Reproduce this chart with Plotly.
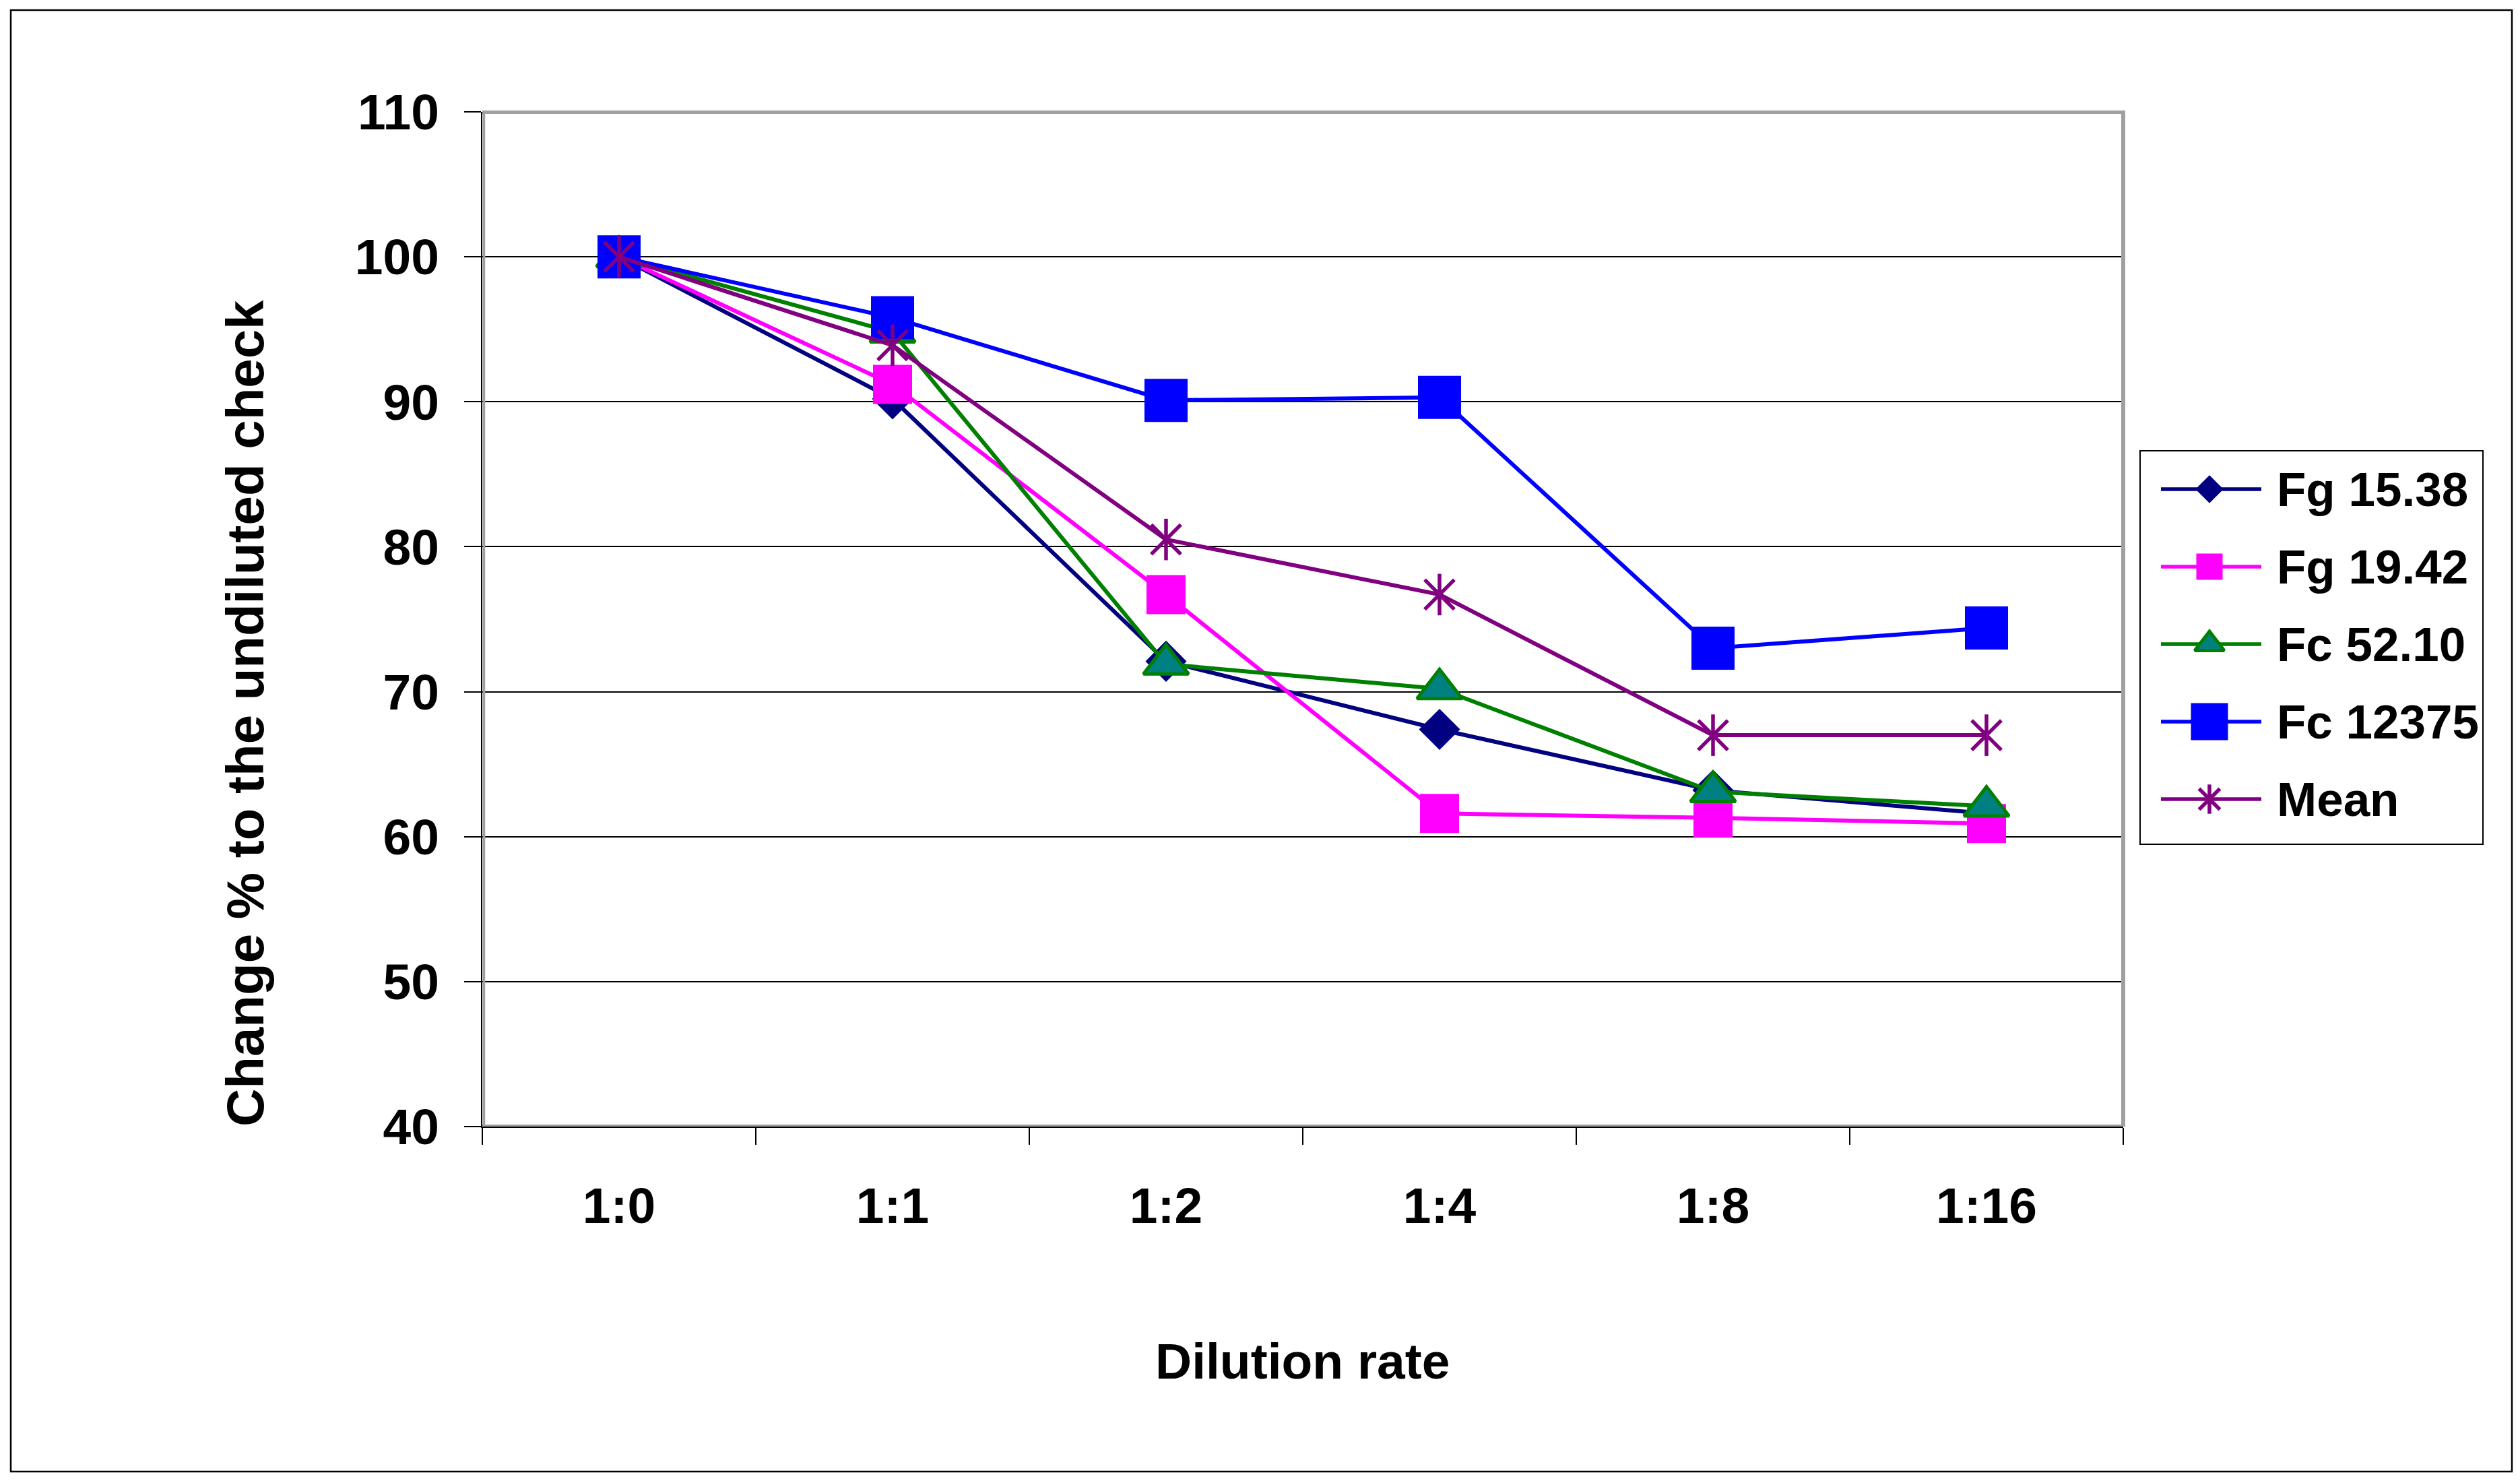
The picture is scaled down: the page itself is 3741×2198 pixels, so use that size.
import plotly.graph_objects as go

# reference page size; the page body adds an 8px margin, so figure coords = page coords - OFF
W, H = 3741, 2198
OFF = 8
FW, FH = W - 2 * OFF, H - 2 * OFF

categories = ["1:0", "1:1", "1:2", "1:4", "1:8", "1:16"]
fg_15_38 = [100, 90.2, 72.1, 67.4, 63.2, 61.6]
fg_19_42 = [100, 91.2, 76.7, 61.6, 61.3, 60.9]
fc_52_10 = [100, 94.8, 71.9, 70.2, 63.1, 62.1]
fc_12375 = [100, 95.8, 90.1, 90.3, 73.0, 74.4]
mean_vals = [100, 93.9, 80.5, 76.7, 67.0, 67.0]

series_names = ["Fg 15.38", "Fg 19.42", "Fc 52.10", "Fc 12375", "Mean"]
series_vals = [fg_15_38, fg_19_42, fc_52_10, fc_12375, mean_vals]

y_ticks = [40, 50, 60, 70, 80, 90, 100, 110]

FONT = "Liberation Sans, Arial, sans-serif"


def fx(p):
    return (p - OFF) / FW


def fy(p):
    return 1 - (p - OFF) / FH


# plot area in page pixels
PX0, PX1, PY0, PY1 = 716, 3152, 166, 1672
# legend box in page pixels
LX0, LY0, LX1, LY1 = 3177, 669, 3686, 1253

styles = [
    dict(line="#000080", fill="#000080", symbol="diamond", size=47, mlc="#000080", mlw=0, leg=32),
    dict(line="#FF00FF", fill="#FF00FF", symbol="square", size=58, mlc="#FF00FF", mlw=0, leg=39),
    dict(line="#008000", fill="#008080", symbol="triangle-up", size=58, mlc="#008000", mlw=5, leg=38),
    dict(line="#0000FF", fill="#0000FF", symbol="square", size=64, mlc="#0000FF", mlw=0, leg=55),
    dict(line="#800080", fill="#800080", symbol="x-thin-open", size=44, mlc="#800080", mlw=5.5, leg=31),
]

fig = go.Figure()

for name, vals, st in zip(series_names, series_vals, styles):
    fig.add_trace(go.Scatter(
        x=categories, y=vals, name=name, mode="lines+markers",
        line=dict(color=st["line"], width=6),
        marker=dict(symbol=st["symbol"], size=st["size"], color=st["fill"],
                    line=dict(color=st["mlc"], width=st["mlw"])),
        showlegend=False, xaxis="x", yaxis="y",
    ))
    if name == "Mean":
        fig.add_trace(go.Scatter(
            x=categories, y=vals, name=name, mode="markers",
            marker=dict(symbol="line-ns-open", size=st["size"], color=st["fill"],
                        line=dict(color=st["mlc"], width=st["mlw"])),
            showlegend=False, hoverinfo="skip", xaxis="x", yaxis="y",
        ))

# legend drawn on its own little axes
row0, row_step = 57, 115
line_x0, line_x1, mark_x, text_x = 31, 180, 103, 201
annotations = []
for i, (name, st) in enumerate(zip(series_names, styles)):
    ry = row0 + row_step * i
    fig.add_trace(go.Scatter(
        x=[line_x0, line_x1], y=[ry, ry], mode="lines",
        line=dict(color=st["line"], width=5.5), showlegend=False,
        hoverinfo="skip", xaxis="x2", yaxis="y2"))
    fig.add_trace(go.Scatter(
        x=[mark_x], y=[ry], mode="markers",
        marker=dict(symbol=st["symbol"], size=st["leg"], color=st["fill"],
                    line=dict(color=st["mlc"], width=st["mlw"])),
        showlegend=False, hoverinfo="skip", xaxis="x2", yaxis="y2"))
    if name == "Mean":
        fig.add_trace(go.Scatter(
            x=[mark_x], y=[ry], mode="markers",
            marker=dict(symbol="line-ns-open", size=st["leg"], color=st["fill"],
                        line=dict(color=st["mlc"], width=st["mlw"])),
            showlegend=False, hoverinfo="skip", xaxis="x2", yaxis="y2"))
    annotations.append(dict(
        x=text_x, y=ry, xref="x2", yref="y2", text=name, showarrow=False,
        xanchor="left", yanchor="middle",
        font=dict(family=FONT, size=71, color="black", weight="bold")))

# axis titles
annotations.append(dict(
    x=fx((PX0 + PX1) / 2), y=fy(2020), xref="paper", yref="paper",
    text="Dilution rate", showarrow=False, xanchor="center", yanchor="middle",
    font=dict(family=FONT, size=75, color="black", weight="bold")))
annotations.append(dict(
    x=fx(364), y=fy(1059), xref="paper", yref="paper",
    text="Change % to the undiluted check", showarrow=False, textangle=-90,
    xanchor="center", yanchor="middle",
    font=dict(family=FONT, size=78, color="black", weight="bold")))


def px_line(x0, y0, x1, y1, color, width):
    return dict(type="line", xref="paper", yref="paper",
                x0=fx(x0), x1=fx(x1), y0=fy(y0), y1=fy(y1),
                line=dict(color=color, width=width), layer="above")


GRAY = "#A0A0A0"
shapes = [
    # plot area gray border (inside the black axis lines)
    px_line(PX0, PY0 + 0.5, PX1 + 3, PY0 + 0.5, GRAY, 5),
    px_line(PX1, PY0 - 2, PX1, PY1, GRAY, 6),
    px_line(PX0 + 2.5, PY0 - 2, PX0 + 2.5, PY1 - 1, GRAY, 3.5),
    px_line(PX0, PY1 - 1.5, PX1, PY1 - 1.5, GRAY, 3),
    # legend box
    dict(type="rect", xref="paper", yref="paper", x0=fx(LX0), x1=fx(LX1),
         y0=fy(LY1), y1=fy(LY0), line=dict(color="black", width=2)),
    # outer chart border
    dict(type="rect", xref="paper", yref="paper", x0=fx(16), x1=fx(3729),
         y0=fy(2184), y1=fy(15), line=dict(color="black", width=2.5)),
]

fig.update_layout(
    width=FW, height=FH,
    margin=dict(l=0, r=0, t=0, b=0, pad=0, autoexpand=False),
    paper_bgcolor="white", plot_bgcolor="white",
    showlegend=False,
    font=dict(family=FONT, color="black"),
    xaxis=dict(
        domain=[fx(PX0), fx(PX1)], anchor="y", automargin=False,
        type="category", categoryorder="array", categoryarray=categories,
        range=[-0.5, len(categories) - 0.5],
        tickson="boundaries", ticks="outside", ticklen=25, tickwidth=2, tickcolor="black",
        showgrid=False, zeroline=False,
        showline=True, linecolor="black", linewidth=2,
        tickfont=dict(family=FONT, size=75, color="black", weight="bold"),
        ticklabelstandoff=51,
    ),
    yaxis=dict(
        domain=[fy(PY1), fy(PY0)], anchor="x", automargin=False,
        range=[40, 110], tickmode="array", tickvals=y_ticks,
        ticktext=[str(v) for v in y_ticks],
        ticks="outside", ticklen=25, tickwidth=2, tickcolor="black",
        showgrid=True, gridcolor="black", gridwidth=1.5, zeroline=False,
        showline=True, linecolor="black", linewidth=2,
        tickfont=dict(family=FONT, size=75, color="black", weight="bold"),
        ticklabelstandoff=22,
    ),
    xaxis2=dict(domain=[fx(LX0), fx(LX1)], anchor="y2", range=[0, LX1 - LX0],
                visible=False, fixedrange=True, automargin=False),
    yaxis2=dict(domain=[fy(LY1), fy(LY0)], anchor="x2", range=[LY1 - LY0, 0],
                visible=False, fixedrange=True, automargin=False),
    annotations=annotations,
    shapes=shapes,
)

fig.write_html("out.html")
